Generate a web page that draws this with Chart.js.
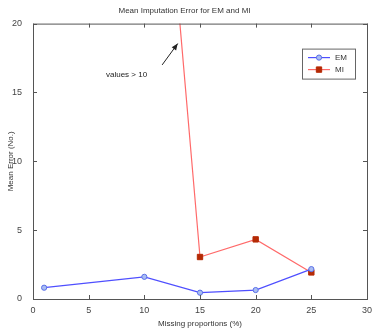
<!DOCTYPE html>
<html>
<head>
<meta charset="utf-8">
<script src="https://cdn.jsdelivr.net/npm/chart.js@4"></script>
<style>
  html, body { margin: 0; padding: 0; background: #fff; }
  #wrap { width: 372px; height: 329px; position: relative; }
</style>
</head>
<body>
<div id="wrap"><canvas id="chart"></canvas></div>
<script>
// Data
const proportions = [1, 10, 15, 20, 25];
const emErrors = [0.82, 1.61, 0.46, 0.65, 2.17];
const miErrors = [60, 50, 3.05, 4.33, 1.93]; // first two are off the top (values > 10)
const xTicks = [0, 5, 10, 15, 20, 25, 30];
const yTicks = [0, 5, 10, 15, 20];

const toPoints = (xs, ys) => xs.map((x, i) => ({ x: x, y: ys[i] }));

// box around the plot with inward tick marks (matlab look) + arrow note
const frame = {
    id: 'frame',
    afterDatasetsDraw(chart) {
        const { ctx, chartArea: a, scales: { x, y } } = chart;
        ctx.save();
        ctx.strokeStyle = '#555';
        ctx.lineWidth = 1;
        ctx.strokeRect(a.left + 0.5, a.top + 0.5, a.right - a.left, a.bottom - a.top);
        ctx.beginPath();
        xTicks.forEach(v => {
            const px = Math.round(x.getPixelForValue(v)) + 0.5;
            ctx.moveTo(px, a.bottom); ctx.lineTo(px, a.bottom - 4);
            ctx.moveTo(px, a.top); ctx.lineTo(px, a.top + 4);
        });
        yTicks.forEach(v => {
            const py = Math.round(y.getPixelForValue(v)) + 0.5;
            ctx.moveTo(a.left, py); ctx.lineTo(a.left + 4, py);
            ctx.moveTo(a.right, py); ctx.lineTo(a.right - 4, py);
        });
        ctx.stroke();

        // "values > 10" note with arrow
        const tx = x.getPixelForValue(11.6), ty = y.getPixelForValue(17.0);
        const hx = x.getPixelForValue(13.0), hy = y.getPixelForValue(18.55);
        ctx.strokeStyle = '#222';
        ctx.fillStyle = '#222';
        ctx.beginPath();
        ctx.moveTo(tx, ty); ctx.lineTo(hx, hy);
        ctx.stroke();
        const ang = Math.atan2(hy - ty, hx - tx);
        ctx.beginPath();
        ctx.moveTo(hx, hy);
        ctx.lineTo(hx - 7 * Math.cos(ang - 0.4), hy - 7 * Math.sin(ang - 0.4));
        ctx.lineTo(hx - 7 * Math.cos(ang + 0.4), hy - 7 * Math.sin(ang + 0.4));
        ctx.closePath();
        ctx.fill();
        ctx.font = '8px "Liberation Sans", Arial, sans-serif';
        ctx.textAlign = 'center';
        ctx.textBaseline = 'middle';
        ctx.fillText('values > 10', x.getPixelForValue(8.4), y.getPixelForValue(16.3));
        ctx.restore();
    }
};

new Chart(document.getElementById('chart'), {
    type: 'line',
    data: {
        datasets: [
            {
                label: 'EM',
                data: toPoints(proportions, emErrors),
                borderColor: '#4f4fff',
                borderWidth: 1.2,
                pointStyle: 'circle',
                pointRadius: 2.6,
                pointBackgroundColor: '#a9bdf2',
                pointBorderColor: '#5a6fe8',
                pointBorderWidth: 1
            },
            {
                label: 'MI',
                data: toPoints(proportions, miErrors),
                borderColor: '#ff6a6a',
                borderWidth: 1.2,
                pointStyle: 'rect',
                pointRadius: 3.8,
                pointBackgroundColor: '#b52a05',
                pointBorderColor: '#b52a05',
                pointBorderWidth: 1
            }
        ]
    },
    options: {
        responsive: true,
        maintainAspectRatio: false,
        animation: false,
        layout: { padding: { top: 0, right: 3, bottom: 0, left: 0 } },
        scales: {
            x: {
                type: 'linear',
                min: 0, max: 30,
                afterBuildTicks: s => { s.ticks = xTicks.map(v => ({ value: v })); },
                afterFit: s => { s.height = 30; },
                grid: { display: false },
                border: { display: false },
                ticks: { color: '#444', font: { size: 9, family: 'Liberation Sans' }, padding: -2 },
                title: { display: true, text: 'Missing proportions (%)', color: '#333',
                         font: { size: 8, family: 'Liberation Sans' }, padding: { top: 0, bottom: 0 } }
            },
            y: {
                min: 0, max: 20,
                afterBuildTicks: s => { s.ticks = yTicks.map(v => ({ value: v })); },
                afterFit: s => { s.width = 33; },
                grid: { display: false },
                border: { display: false },
                ticks: { color: '#444', font: { size: 9, family: 'Liberation Sans' }, padding: 3 },
                title: { display: true, text: 'Mean Error (No.)', color: '#333',
                         font: { size: 8, family: 'Liberation Sans' }, padding: { top: 6, bottom: 4 } }
            }
        },
        plugins: {
            title: {
                display: true,
                text: 'Mean Imputation Error for EM and MI',
                color: '#333',
                font: { size: 8, family: 'Liberation Sans', weight: 'normal' },
                padding: { top: 6, bottom: 8 }
            },
            legend: { display: false },
            tooltip: { enabled: false }
        }
    },
    plugins: [frame, {
        // legend box drawn inside the plot, top right
        id: 'innerLegend',
        afterDraw(chart) {
            const { ctx, chartArea: a } = chart;
            const bx = a.right - 65, by = a.top + 25, bw = 53, bh = 30;
            ctx.save();
            ctx.fillStyle = '#fff';
            ctx.fillRect(bx, by, bw, bh);
            ctx.strokeStyle = '#666';
            ctx.lineWidth = 1;
            ctx.strokeRect(bx + 0.5, by + 0.5, bw, bh);
            ctx.font = '8px "Liberation Sans", Arial, sans-serif';
            ctx.textBaseline = 'middle';
            chart.data.datasets.forEach((ds, i) => {
                const ly = by + 9 + i * 12;
                ctx.strokeStyle = ds.borderColor;
                ctx.lineWidth = 1.2;
                ctx.beginPath();
                ctx.moveTo(bx + 6, ly); ctx.lineTo(bx + 28, ly);
                ctx.stroke();
                ctx.fillStyle = ds.pointBackgroundColor;
                ctx.strokeStyle = ds.pointBorderColor;
                ctx.lineWidth = 1;
                Chart.helpers.drawPoint(ctx, { pointStyle: ds.pointStyle, radius: ds.pointRadius, rotation: 0, borderWidth: 1 }, bx + 17, ly);
                ctx.fillStyle = '#333';
                ctx.fillText(ds.label, bx + 33, ly);
            });
            ctx.restore();
        }
    }]
});
</script>
</body>
</html>
